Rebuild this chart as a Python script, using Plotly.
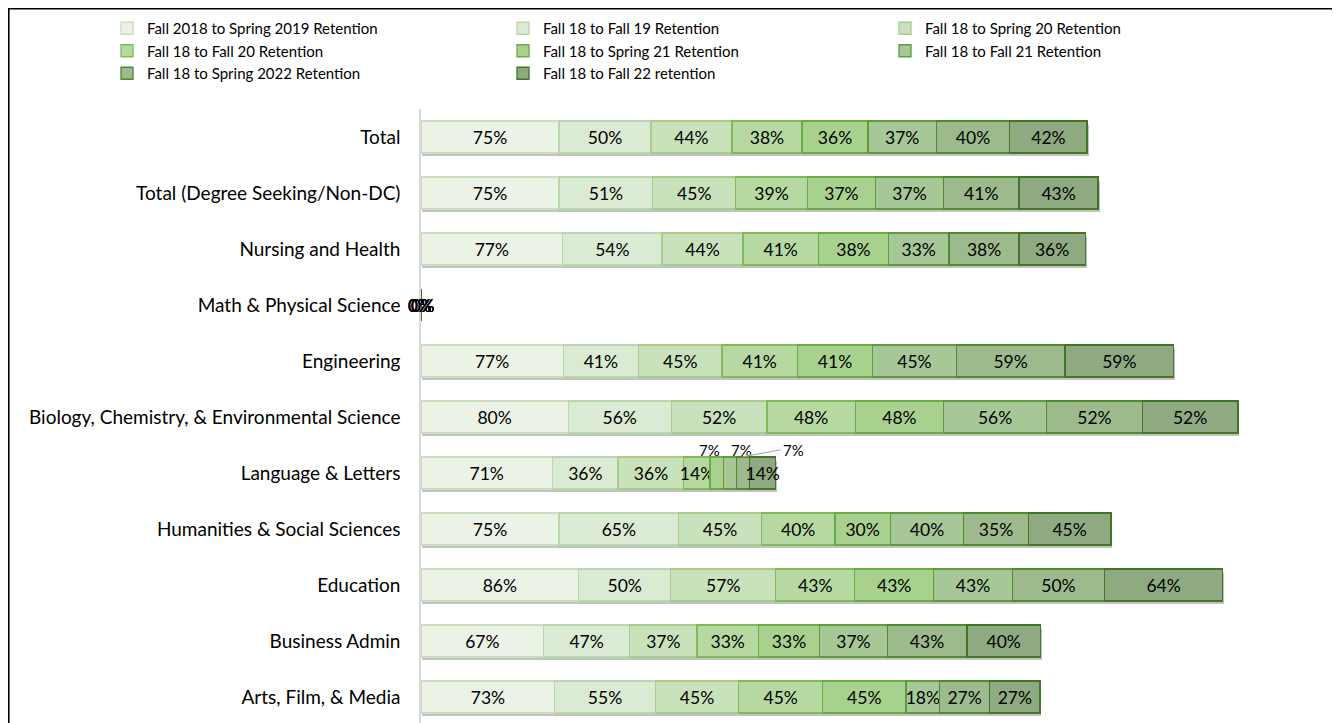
import plotly.graph_objects as go

categories = [
    "Total",
    "Total (Degree Seeking/Non-DC)",
    "Nursing and Health",
    "Math & Physical Science",
    "Engineering",
    "Biology, Chemistry, & Environmental Science",
    "Language & Letters",
    "Humanities & Social Sciences",
    "Education",
    "Business Admin",
    "Arts, Film, & Media",
]

series_names = [
    "Fall 2018 to Spring 2019 Retention",
    "Fall 18 to Fall 19 Retention",
    "Fall 18 to Spring 20 Retention",
    "Fall 18 to Fall 20 Retention",
    "Fall 18 to Spring 21 Retention",
    "Fall 18 to Fall 21 Retention",
    "Fall 18 to Spring 2022 Retention",
    "Fall 18 to Fall 22 retention",
]

# values per series (percent), in category order
s1 = [75, 75, 77, 0, 77.27, 80, 71.43, 75, 85.71, 66.67, 72.73]
s2 = [50, 51, 54, 0, 40.91, 56, 35.71, 65, 50, 46.67, 54.55]
s3 = [44, 45, 44, 0, 45.45, 52, 35.71, 45, 57.14, 36.67, 45.45]
s4 = [38, 39, 41, 0, 40.91, 48, 14.29, 40, 42.86, 33.33, 45.45]
s5 = [36, 37, 38, 0, 40.91, 48, 7.14, 30, 42.86, 33.33, 45.45]
s6 = [37, 37, 33, 0, 45.45, 56, 7.14, 40, 42.86, 36.67, 18.18]
s7 = [40, 41, 38, 0, 59.09, 52, 7.14, 35, 50, 43.33, 27.27]
s8 = [42, 43, 36, 0, 59.09, 52, 14.29, 45, 64.29, 40, 27.27]
series_values = [s1, s2, s3, s4, s5, s6, s7, s8]

fills = ["#EBF2E6", "#DBEAD2", "#CAE2BC", "#B6D9A1", "#A9D18E", "#A6C796", "#9DBA8C", "#8FAA80"]
borders = ["#CADDBF", "#BAD6AA", "#A6CD8E", "#80BA5D", "#6BAB45", "#5F9B3C", "#4F8A31", "#417527"]

FONT = "Lato, Carlito, Calibri, sans-serif"
# page body adds an 8px offset, so the figure is sized to the remaining window
W, H = 1332, 715
L, R, T, B = 413, 9, 101, 0
PW = W - L - R
PH = H - T - B
PX_PER = 1.84
ROW_PX = 56
BAR_W = 0.57

n = len(categories)
x_range = [0, PW / PX_PER]
y_range = [n - 0.5 - (n * ROW_PX - PH) / ROW_PX, -0.5]

legend_ids = ["legend", "legend2", "legend3"]

fig = go.Figure()

# soft drop shadow under each stacked bar (base subplot, drawn beneath the bars)
totals = [sum(vals[i] for vals in series_values) for i in range(n)]
fig.add_trace(go.Bar(
    y=categories, x=totals, orientation="h", base=0.8,
    width=BAR_W, offset=-BAR_W / 2 + 3.5 / ROW_PX,
    marker=dict(color="rgba(120,120,120,0.45)", line=dict(width=0)),
    showlegend=False, hoverinfo="skip", xaxis="x", yaxis="y",
))

for k, (name, vals, fc, bc) in enumerate(zip(series_names, series_values, fills, borders)):
    texts = []
    for c, v in zip(categories, vals):
        if v == 0 or (c == "Language & Letters" and v < 10):
            texts.append("")
        else:
            texts.append(f"{v:.0f}%")
    fig.add_trace(go.Bar(
        y=categories, x=vals, name=name, orientation="h",
        xaxis="x2", yaxis="y2",
        legend=legend_ids[k % 3],
        marker=dict(color=fc, line=dict(color=bc, width=1.3)),
        text=texts, textposition="inside", insidetextanchor="middle",
        constraintext="none", textangle=0,
        textfont=dict(family=FONT, size=17.5, color="#000000"),
        hoverinfo="skip",
    ))

annotations = []
# zero labels for the empty row (all series overlap at 0)
for i, vals in enumerate(series_values):
    for c, v in zip(categories, vals):
        if v == 0:
            annotations.append(dict(x=0, y=c, xref="x", yref="y", text=f"{v:.0f}%",
                                    showarrow=False, xanchor="center", xshift=(i % 2) * 3 - 1,
                                    font=dict(family=FONT, size=17, color="#000000")))

# small labels above Language & Letters
row = "Language & Letters"
ri = categories.index(row)
cum = 0
small_idx = 0
shifts = [-7, 12]
for vals in series_values:
    v = vals[ri]
    if 0 < v < 10:
        cx = cum + v / 2
        if small_idx < 2:
            annotations.append(dict(x=cx, y=ri, xref="x", yref="y", text=f"{v:.0f}%",
                                    showarrow=False, yshift=23, xshift=shifts[small_idx],
                                    font=dict(family=FONT, size=15, color="#000000")))
        else:
            annotations.append(dict(x=cx, y=ri - 0.29, xref="x", yref="y", text=f"{v:.0f}%",
                                    showarrow=True, arrowhead=0, arrowwidth=1.2, arrowcolor="#A6A6A6",
                                    ax=38, ay=-7, xanchor="left", standoff=0,
                                    font=dict(family=FONT, size=15, color="#000000")))
        small_idx += 1
    cum += v

legend_common = dict(orientation="v", xref="container", yref="paper",
                     xanchor="left", y=1 + (T - 4) / PH, yanchor="top",
                     font=dict(family=FONT, size=15, color="#000000"),
                     itemwidth=30, traceorder="normal", bgcolor="rgba(0,0,0,0)")
legend_x = [99, 495, 877]

fig.update_layout(
    width=W, height=H,
    barmode="stack", bargap=1 - BAR_W,
    plot_bgcolor="white", paper_bgcolor="white",
    margin=dict(l=L, r=R, t=T, b=B, pad=0, autoexpand=False),
    font=dict(family=FONT, size=15, color="#000000"),
    xaxis=dict(range=x_range, visible=False, fixedrange=True),
    yaxis=dict(type="category", categoryorder="array", categoryarray=categories,
               range=y_range, autorange=False,
               showline=True, linecolor="#D9D9D9", linewidth=1.5, showgrid=False,
               ticks="", ticklabelstandoff=15,
               tickfont=dict(family=FONT, size=19, color="#000000")),
    xaxis2=dict(range=x_range, visible=False, overlaying="x", fixedrange=True),
    yaxis2=dict(type="category", categoryorder="array", categoryarray=categories,
                range=y_range, autorange=False, overlaying="y",
                visible=False, showgrid=False),
    legend=dict(legend_common, x=legend_x[0] / W),
    legend2=dict(legend_common, x=legend_x[1] / W),
    legend3=dict(legend_common, x=legend_x[2] / W),
    annotations=annotations,
    shapes=[
        dict(type="line", xref="paper", yref="paper",
             x0=(0 - L) / PW, x1=(W + 5 - L) / PW, y0=1 + (T - 0.7) / PH, y1=1 + (T - 0.7) / PH,
             line=dict(color="#000000", width=1.6)),
        dict(type="line", xref="paper", yref="paper",
             x0=(0.8 - L) / PW, x1=(0.8 - L) / PW, y0=-0.1, y1=1 + T / PH,
             line=dict(color="#000000", width=1.6)),
    ],
    showlegend=True,
)

fig.write_html("out.html")
